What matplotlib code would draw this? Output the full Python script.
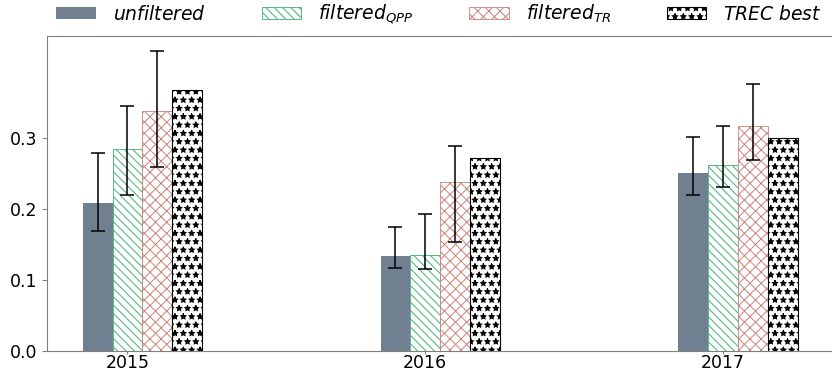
import numpy as np
import matplotlib
matplotlib.use('Agg')
import matplotlib.pyplot as plt

# Scores per year with lower / upper bounds of the error bars.
years = ['2015', '2016', '2017']
unfiltered = [0.208, 0.134, 0.250]
unfiltered_lo = [0.168, 0.117, 0.219]
unfiltered_hi = [0.278, 0.174, 0.301]
filtered_qpp = [0.284, 0.135, 0.261]
filtered_qpp_lo = [0.220, 0.115, 0.230]
filtered_qpp_hi = [0.345, 0.193, 0.317]
filtered_tr = [0.337, 0.237, 0.317]
filtered_tr_lo = [0.258, 0.153, 0.268]
filtered_tr_hi = [0.422, 0.288, 0.375]
trec_best = [0.367, 0.271, 0.299]


def err(vals, lo, hi):
    vals, lo, hi = np.array(vals), np.array(lo), np.array(hi)
    return [vals - lo, hi - vals]


plt.rcParams['hatch.linewidth'] = 0.7

x = np.arange(len(years))
w = 0.1

fig = plt.figure(figsize=(8.32, 3.73), dpi=100)
ax = fig.add_axes([0.0565, 0.059, 0.945, 0.845])

ekw = dict(ecolor='k', capsize=5, error_kw=dict(elinewidth=1.1, capthick=1.1))
ax.bar(x - w, unfiltered, w, color='slategrey', label='$unfiltered$',
       yerr=err(unfiltered, unfiltered_lo, unfiltered_hi), **ekw)
ax.bar(x, filtered_qpp, w, color='white', edgecolor='mediumseagreen', hatch='\\\\\\\\',
       linewidth=0.6, label='$filtered_{QPP}$',
       yerr=err(filtered_qpp, filtered_qpp_lo, filtered_qpp_hi), **ekw)
ax.bar(x + w, filtered_tr, w, color='white', edgecolor='#c98378', hatch='xxx',
       linewidth=0.6, label='$filtered_{TR}$',
       yerr=err(filtered_tr, filtered_tr_lo, filtered_tr_hi), **ekw)
ax.bar(x + 2 * w, trec_best, w, color='white', edgecolor='black', hatch='**',
       linewidth=0.8, label='$TREC\\ best$')

ax.set_xticks(x)
ax.set_xticklabels(years)
ax.set_yticks([0.0, 0.1, 0.2, 0.3])
ax.tick_params(labelsize=12.5, colors='#808080', labelcolor='black', length=3.5)
ax.tick_params(axis='x', length=2, pad=0.5)
for s in ax.spines.values():
    s.set_color('#808080')

ax.legend(loc='lower left', bbox_to_anchor=(0.0, 1.0), ncol=4, frameon=False,
          fontsize=13.5, handlelength=2.1, handleheight=0.6, handletextpad=0.9,
          columnspacing=3.0, borderaxespad=0.1)

fig.savefig('out.png', dpi=100)
